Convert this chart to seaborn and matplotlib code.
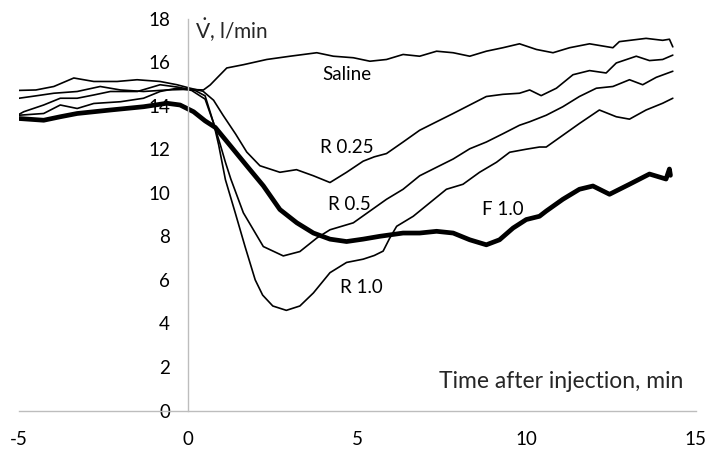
import matplotlib
matplotlib.use("Agg")
import matplotlib.pyplot as plt
import seaborn as sns
import pandas as pd

# values (time in min, flow in l/min)
saline_t = [-5.0, -4.5, -3.97, -3.28, -2.6, -2.0, -1.32, -0.63, 0.0, 0.45, 0.65, 0.85, 1.14, 1.63,
            2.32, 3.01, 3.8, 4.29, 4.88, 5.37, 5.86, 6.35, 6.84, 7.34, 7.83, 8.32, 8.81, 9.3, 9.79,
            10.29, 10.78, 11.27, 11.86, 12.55, 12.74, 13.53, 14.02, 14.22, 14.32]
saline_v = [14.34, 14.45, 14.57, 14.65, 14.88, 14.72, 14.65, 14.72, 14.75, 14.72, 14.95, 15.27, 15.73, 15.88,
            16.12, 16.27, 16.43, 16.27, 16.2, 16.04, 16.12, 16.35, 16.27, 16.5, 16.43, 16.27, 16.5, 16.66, 16.84,
            16.58, 16.43, 16.66, 16.84, 16.66, 16.94, 17.09, 17.0, 17.05, 16.7]

r025_t = [-5.0, -4.5, -3.97, -3.38, -2.79, -2.1, -1.51, -0.83, -0.33, 0.06, 0.44, 0.75, 1.03, 1.4, 1.73,
          2.12, 2.71, 3.2, 3.7, 4.19, 4.68, 5.17, 5.5, 5.86, 6.35, 6.84, 7.34, 7.83, 8.32, 8.81, 9.3, 9.79,
          10.09, 10.43, 10.88, 11.37, 11.86, 12.35, 12.65, 13.24, 13.63, 14.02, 14.32]
r025_v = [14.7, 14.72, 14.88, 15.27, 15.11, 15.11, 15.19, 15.11, 14.96, 14.8, 14.66, 14.25, 13.56, 12.7, 11.87,
          11.24, 10.94, 11.06, 10.78, 10.47, 10.94, 11.45, 11.65, 11.8, 12.33, 12.87, 13.26, 13.64, 14.03, 14.42,
          14.52, 14.57, 14.72, 14.46, 14.8, 15.42, 15.61, 15.5, 15.96, 16.27, 16.07, 16.12, 16.32]

r05_t = [-5.0, -4.86, -4.27, -3.78, -3.28, -2.79, -2.3, -1.5, -0.83, -0.3, 0.2, 0.5, 0.75, 0.95, 1.1, 1.26,
         1.63, 2.22, 2.81, 3.3, 3.8, 4.19, 4.88, 5.37, 5.86, 6.35, 6.84, 7.34, 7.83, 8.32, 8.81, 9.3, 9.79,
         10.09, 10.58, 11.07, 11.56, 12.06, 12.55, 13.04, 13.43, 13.83, 14.32]
r05_v = [13.6, 13.72, 14.03, 14.34, 14.34, 14.49, 14.65, 14.65, 14.96, 14.85, 14.7, 14.45, 13.2, 12.2, 11.4, 10.63,
         9.08, 7.53, 7.1, 7.3, 7.92, 8.3, 8.62, 9.16, 9.7, 10.16, 10.78, 11.17, 11.55, 12.02, 12.33, 12.71, 13.1,
         13.26, 13.56, 13.95, 14.42, 14.8, 14.88, 15.19, 14.96, 15.3, 15.58]

r10_t = [-5.0, -4.27, -3.78, -3.28, -2.79, -2.0, -1.32, -0.83, -0.33, 0.1, 0.5, 0.75, 0.9, 1.1, 1.39, 1.68,
         1.98, 2.2, 2.5, 2.9, 3.3, 3.7, 4.19, 4.68, 5.17, 5.5, 5.76, 5.95, 6.16, 6.65, 7.14, 7.63, 8.12, 8.61,
         9.11, 9.5, 9.99, 10.38, 10.58, 11.07, 11.56, 12.15, 12.65, 13.04, 13.53, 14.02, 14.32]
r10_v = [13.56, 13.64, 14.03, 13.87, 14.1, 14.18, 14.34, 14.65, 14.8, 14.7, 14.3, 13.2, 12.2, 10.6, 9.08, 7.53,
         6.0, 5.3, 4.8, 4.6, 4.8, 5.4, 6.33, 6.8, 6.95, 7.12, 7.32, 7.9, 8.46, 8.92, 9.54, 10.16, 10.39, 10.94,
         11.4, 11.86, 12.0, 12.1, 12.1, 12.64, 13.18, 13.8, 13.49, 13.38, 13.8, 14.11, 14.34]

f10_t = [-5.0, -4.27, -3.78, -3.28, -2.3, -1.32, -0.63, -0.24, 0.16, 0.5, 0.8, 1.24, 1.73, 2.22, 2.71, 3.21,
         3.7, 4.19, 4.68, 5.17, 5.66, 6.35, 6.84, 7.34, 7.83, 8.32, 8.81, 9.2, 9.6, 9.99, 10.38, 10.58, 11.07,
         11.56, 11.96, 12.45, 13.04, 13.63, 14.12, 14.22, 14.25]
f10_v = [13.41, 13.33, 13.49, 13.64, 13.8, 13.95, 14.11, 14.03, 13.72, 13.3, 13.0, 12.17, 11.24, 10.32, 9.23, 8.62,
         8.15, 7.87, 7.76, 7.87, 8.0, 8.15, 8.15, 8.23, 8.15, 7.84, 7.61, 7.84, 8.38, 8.77, 8.92, 9.16, 9.7,
         10.16, 10.31, 9.93, 10.39, 10.86, 10.63, 11.09, 10.8]

labels = ["Saline", "R 0.25", "R 0.5", "R 1.0", "F 1.0"]
label_t = [4.7, 4.69, 4.75, 5.13, 9.3]
label_v = [15.45, 12.1, 9.47, 5.66, 9.23]

x_ticks = [-5, 0, 5, 10, 15]
y_ticks = [0, 2, 4, 6, 8, 10, 12, 14, 16, 18]

sns.set_style("white")
plt.rcParams["font.family"] = ["Lato", "DejaVu Sans"]
plt.rcParams["axes.unicode_minus"] = False
plt.rcParams["mathtext.fontset"] = "custom"
plt.rcParams["mathtext.rm"] = "Lato"
plt.rcParams["mathtext.it"] = "Lato:italic"

fig = plt.figure(figsize=(7.08, 4.49), dpi=100)
ax = fig.add_axes([0.0268, 0.0857, 0.956, 0.873])

curves = [(saline_t, saline_v, 1.2), (r025_t, r025_v, 1.2), (r05_t, r05_v, 1.2),
          (r10_t, r10_v, 1.2), (f10_t, f10_v, 3.4)]
for t, v, lw in curves:
    df = pd.DataFrame({"t": t, "v": v})
    sns.lineplot(data=df, x="t", y="v", color="black", lw=lw, estimator=None, sort=False, ax=ax)

for name, t, v in zip(labels, label_t, label_v):
    ax.text(t, v, name, fontsize=13.5, ha="center", va="center", color="black")

ax.set_xlim(-5, 15)
ax.set_ylim(0, 18)
ax.set_xticks(x_ticks)
ax.set_yticks(y_ticks)
ax.set_xlabel("")
ax.set_ylabel("")

gray = "#bdbdbd"
ax.spines["left"].set_position(("data", 0))
ax.spines["bottom"].set_position(("data", 0))
for side in ["top", "right"]:
    ax.spines[side].set_visible(False)
for side in ["left", "bottom"]:
    ax.spines[side].set_color(gray)
    ax.spines[side].set_linewidth(1.0)
ax.tick_params(axis="both", direction="out", length=5, width=1.0, color=gray,
               labelsize=13.5, labelcolor="black")
ax.tick_params(axis="y", pad=8)
ax.tick_params(axis="x", pad=10)

ax.text(0.2, 17.45, r"$\dot{\mathrm{V}}$, l/min", fontsize=15, ha="left", va="center")
ax.text(14.62, 1.35, "Time after injection, min", fontsize=16.5, ha="right", va="center")

fig.savefig("out.png", dpi=100)
